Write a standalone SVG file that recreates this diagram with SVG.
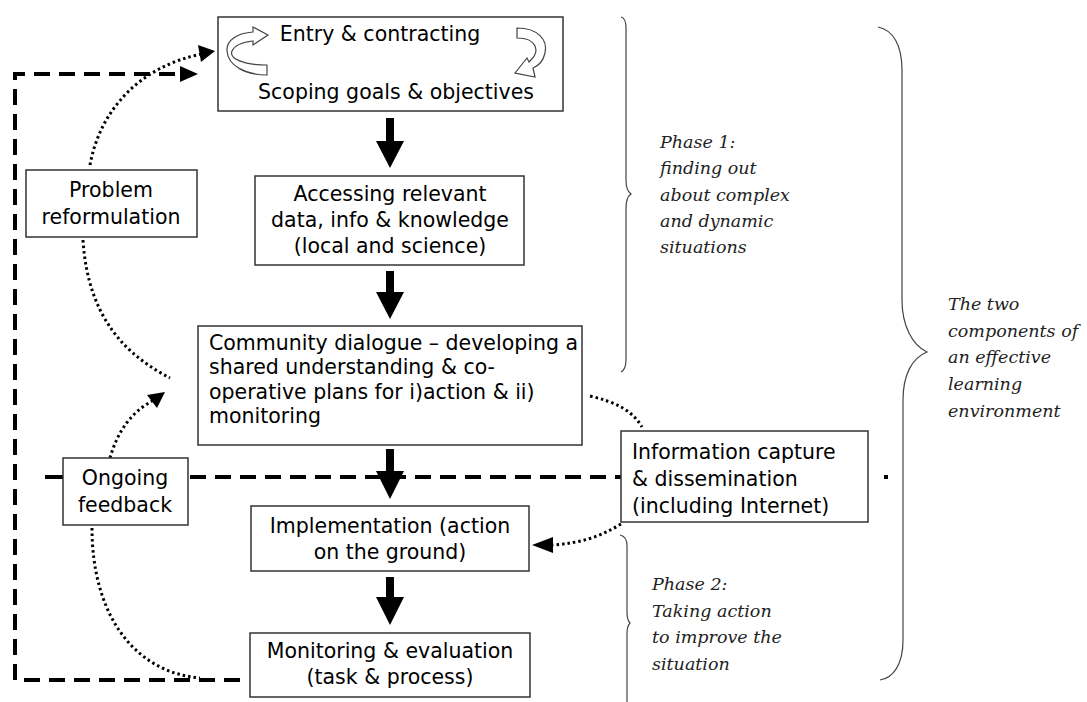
<svg xmlns="http://www.w3.org/2000/svg" width="1087" height="702" viewBox="0 0 1087 702">
<style>
.box{fill:#fff;stroke:#333;stroke-width:1.5}
.t{font-family:"DejaVu Sans",sans-serif;font-size:20.5px;fill:#000}
.c{text-anchor:middle}
.it{font-family:"DejaVu Serif",serif;font-style:italic;font-size:17.5px;fill:#222}
.dash{fill:none;stroke:#000;stroke-width:4;stroke-dasharray:16 9}
.dot{fill:none;stroke:#000;stroke-width:3;stroke-dasharray:2.5 3}
.brace{fill:none;stroke:#444;stroke-width:1.2}
.big{fill:#000}
.curl{fill:#fff;stroke:#444;stroke-width:1.2}
</style>
<rect width="1087" height="702" fill="#fff"/>

<g id="connectors">
  <!-- horizontal dashed boundary line -->
  <line x1="45" y1="477" x2="63" y2="477" stroke="#000" stroke-width="4"/>
  <line class="dash" x1="190" y1="477" x2="622" y2="477"/>
  <line x1="884" y1="477" x2="888" y2="477" stroke="#000" stroke-width="4"/>
  <!-- big left dashed loop -->
  <path class="dash" d="M240,680 L15,680 L15,74 L182,74"/>
  <polygon class="big" points="180,66 198,74 180,82"/>
  <!-- dotted curves -->
  <path class="dot" d="M90,165 C100,110 140,66 202,54"/>
  <polygon class="big" points="198,45 215,51 201,62"/>
  <path class="dot" d="M83,240 C88,320 128,356 170,378"/>
  <path class="dot" d="M110,458 C118,430 132,412 152,401"/>
  <polygon class="big" points="147,395 165,392 157,408"/>
  <path class="dot" d="M92,528 C92,612 132,672 200,678"/>
  <path class="dot" d="M590,396 C615,402 632,410 642,427"/>
  <path class="dot" d="M621,524 C600,537 580,543 553,545"/>
  <polygon class="big" points="553,537 532,545 553,553"/>
  <!-- main thick arrows -->
  <polygon class="big" points="386,118 394,118 394,141 404,141 390,168 376,141 386,141"/>
  <polygon class="big" points="386,271 394,271 394,292 404,292 390,319 376,292 386,292"/>
  <polygon class="big" points="386,449 394,449 394,471 404,471 390,499 376,471 386,471"/>
  <polygon class="big" points="386,577 394,577 394,597 404,597 390,625 376,597 386,597"/>
</g>

<g id="node-entry">
  <rect class="box" x="218" y="17" width="345" height="94"/>
  <path class="curl" d="M267,65 C242,65 229,58 232,51 C235,45 243,42 253,41 L253,45 L268,35 L253,27 L253,32 C238,33 226,40 227,51 C228,66 246,75 267,75 Z"/>
  <path class="curl" d="M517,28 C538,28 548,40 545,53 C543,62 538,66 533,68 L535,77 L515,73 L527,58 L529,62 C533,58 536,55 536,50 C535,42 528,38 517,38 Z"/>
  <text class="t c" x="380" y="41">Entry &amp; contracting</text>
  <text class="t c" x="396" y="99">Scoping goals &amp; objectives</text>
</g>

<g id="node-accessing">
  <rect class="box" x="255" y="176" width="269" height="89"/>
  <text class="t c" x="390" y="201">Accessing relevant</text>
  <text class="t c" x="390" y="227">data, info &amp; knowledge</text>
  <text class="t c" x="390" y="253">(local and science)</text>
</g>

<g id="node-community">
  <rect class="box" x="198" y="326" width="384" height="119"/>
  <text class="t" x="209" y="350">Community dialogue – developing a</text>
  <text class="t" x="209" y="374">shared understanding &amp; co-</text>
  <text class="t" x="209" y="399">operative plans for i)action &amp; ii)</text>
  <text class="t" x="209" y="423">monitoring</text>
</g>

<g id="node-implementation">
  <rect class="box" x="251" y="506" width="278" height="65"/>
  <text class="t c" x="390" y="533">Implementation (action</text>
  <text class="t c" x="390" y="559">on the ground)</text>
</g>

<g id="node-monitoring">
  <rect class="box" x="250" y="633" width="280" height="64"/>
  <text class="t c" x="390" y="658">Monitoring &amp; evaluation</text>
  <text class="t c" x="390" y="684">(task &amp; process)</text>
</g>

<g id="node-problem">
  <rect class="box" x="26" y="170" width="171" height="67"/>
  <text class="t c" x="111" y="197">Problem</text>
  <text class="t c" x="111" y="224">reformulation</text>
</g>

<g id="node-ongoing">
  <rect class="box" x="63" y="458" width="125" height="67"/>
  <text class="t c" x="125" y="485">Ongoing</text>
  <text class="t c" x="125" y="512">feedback</text>
</g>

<g id="node-information">
  <rect class="box" x="621" y="431" width="247" height="91"/>
  <text class="t" x="632" y="459">Information capture</text>
  <text class="t" x="632" y="486">&amp; dissemination</text>
  <text class="t" x="632" y="513">(including Internet)</text>
</g>

<g id="braces">
  <path class="brace" d="M621,17 C625,18 626,22 626,28 L626,180 C626,188 628,192 631,194 C628,196 626,200 626,208 L626,360 C626,366 625,370 621,372"/>
  <path class="brace" d="M620,535 C625,536 627,540 627,546 L627,612 C627,618 628,621 630,623 C628,625 627,628 627,634 L627,702"/>
  <path class="brace" d="M878,27 C893,30 902,45 902,70 L902,300 C902,325 912,345 927,352 C912,358 903,375 903,400 L903,640 C903,665 893,678 880,680"/>
</g>

<g id="labels">
  <text class="it" x="660" y="148">Phase 1:</text>
  <text class="it" x="660" y="174">finding out</text>
  <text class="it" x="660" y="201">about complex</text>
  <text class="it" x="660" y="227">and dynamic</text>
  <text class="it" x="660" y="253">situations</text>
  <text class="it" x="652" y="590">Phase 2:</text>
  <text class="it" x="652" y="617">Taking action</text>
  <text class="it" x="652" y="643">to improve the</text>
  <text class="it" x="652" y="670">situation</text>
  <text class="it" x="948" y="310">The two</text>
  <text class="it" x="948" y="337">components of</text>
  <text class="it" x="948" y="363">an effective</text>
  <text class="it" x="948" y="390">learning</text>
  <text class="it" x="948" y="417">environment</text>
</g>
</svg>
